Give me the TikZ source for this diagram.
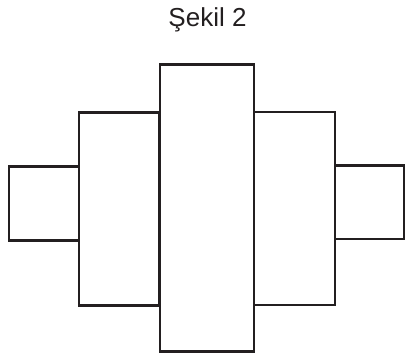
\documentclass[tikz,border=0pt]{standalone}
\usepackage{fontspec}
\setmainfont{Liberation Sans}
\definecolor{ink}{HTML}{231F20}
\begin{document}
\begin{tikzpicture}[x=1pt,y=-1pt,
  part/.style={draw=ink,line width=2.3pt,line join=miter}]
\useasboundingbox (0,0) rectangle (405,356);
\node[anchor=base,inner sep=0pt,text=ink,font=\fontsize{26}{30}\selectfont] (title) at (207.5,27) {Şekil 2};
\draw[part] (9,166.5) rectangle (79,240.5);
\draw[part] (79,112.5) rectangle (159.5,305.5);
\draw[part] (160,64.5) rectangle (254,351.5);
\draw[part] (254,112) rectangle (335,305);
\draw[part] (335,165.5) rectangle (404,239);
\end{tikzpicture}
\end{document}
